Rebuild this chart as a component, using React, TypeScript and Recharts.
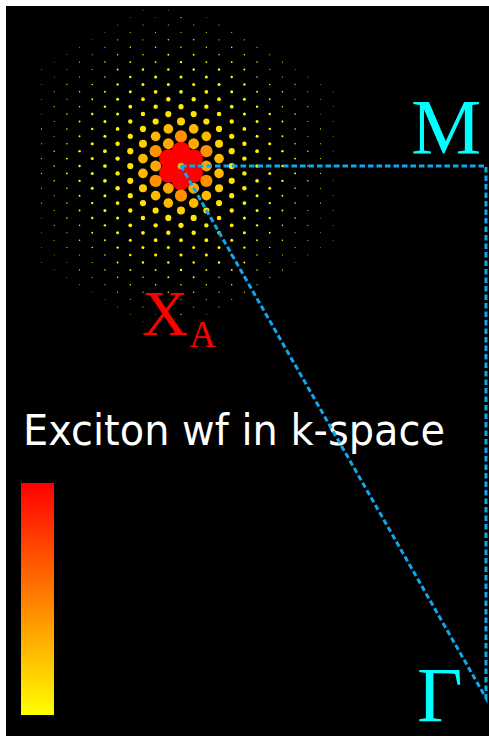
import React from 'react';
import { ScatterChart, Scatter, XAxis, YAxis } from 'recharts';

// Exciton weight on each k-point of the sampling grid, one string per lattice
// row h = -21 … 21 (top to bottom). Odd rows hold columns c = -11, -9, …, 11,
// even rows hold c = -10, -8, …, 12. '.' = k-point outside the sampled patch.
const weightRows: string[] = [
  '....zz......', // h = -21
  '...zzaz.....',
  '...zaaaa....',
  '..zaaaaa....',
  '..zaabbaa...',
  '.zabbbbba...',
  '.zabbccbba..',
  'zabccdccba..',
  'zzacddddcaz.',
  'zabdeeedbaz.',
  'zabdeeeedbaz',
  'abcefffecbaz',
  'zacefggfecaz',
  'abdfghgfdbaz',
  'zbdegiigedbz',
  'acegijigecaz',
  'abdfikkifdba',
  'acehkmkhecaz',
  'abegjlljgeba',
  'bdfimRmifdbz',
  'acegkRRkgeca',
  'bdfilRlifdbz', // h = 0
  'acegkRRkgeca',
  'bdfimRmifdbz',
  'abegjlljgeba',
  'acehkmkhecaz',
  'abdfikkifdba',
  'acegijigecaz',
  'zbdegiigedbz',
  'abdfghgfdbaz',
  'zacefggfecaz',
  'abcefffecbaz',
  'zabdeeeedbaz',
  'zabdeeedbaz.',
  'zzacddddcaz.',
  'zabccdccba..',
  '.zabbccbba..',
  '.zabbbbba...',
  '..zaabbaa...',
  '..zaaaaa....',
  '...zaaaa....',
  '...zzaz.....',
  '....zz......', // h = 21
];

// Normalised |A(k)|^2 for each weight symbol.
const weightLevels: Record<string, number> = {
  R: 1.0,
  m: 0.43,
  l: 0.34,
  k: 0.27,
  j: 0.185,
  i: 0.11,
  h: 0.078,
  g: 0.056,
  f: 0.04,
  e: 0.026,
  d: 0.0167,
  c: 0.0104,
  b: 0.0065,
  a: 0.0035,
  z: 0.002,
};

// High-symmetry points (lattice units, ky grows downward).
const kPoints = [
  { name: 'X', sub: 'A', kx: 0, ky: 0 },
  { name: 'M', sub: '', kx: 20.83, ky: 0 },
  { name: 'Γ', sub: '', kx: 20.83, ky: 35.85 },
];
const kPathOrder = ['X', 'M', 'Γ', 'X'];

const HALF_SQRT3 = Math.sqrt(3) / 2;

type LatticePoint = { kx: number; ky: number; w: number };

const latticePoints: LatticePoint[] = [];
weightRows.forEach((row, i) => {
  const h = i - 21;
  const cStart = Math.abs(h) % 2 === 1 ? -11 : -10;
  row.split('').forEach((ch, j) => {
    if (ch === '.') return;
    const c = cStart + 2 * j;
    latticePoints.push({ kx: c * HALF_SQRT3, ky: h / 2, w: weightLevels[ch] });
  });
});

const pathData = kPathOrder.map((n) => kPoints.find((p) => p.name === n)!);
const valleyPoint = kPoints.filter((p) => p.name === 'X');

// Colour scale: yellow (low) -> red (high), same as the colour bar.
const weightColor = (v: number) => `rgb(255,${Math.round(255 * (1 - v))},0)`;
const MAX_R = 9.3;

const LatticeDot = (props: any) => {
  const { cx, cy, payload } = props;
  const v = payload.w as number;
  return <circle cx={cx} cy={cy} r={MAX_R * Math.sqrt(v)} fill={weightColor(v)} />;
};

const ValleyDot = (props: any) => (
  <circle cx={props.cx} cy={props.cy} r={3.3} fill="#f4b400" />
);

const labelLayout: Record<string, { dx: number; dy: number; size: number; color: string }> = {
  X: { dx: -39, dy: 169, size: 64, color: '#ff0000' },
  M: { dx: -75, dy: -13, size: 79, color: '#00ffff' },
  'Γ': { dx: -69, dy: 23, size: 79, color: '#00ffff' },
};

const PointLabel = (props: any) => {
  const { cx, cy, payload } = props;
  const lay = labelLayout[payload.name];
  return (
    <text
      x={cx + lay.dx}
      y={cy + lay.dy}
      fill={lay.color}
      fontSize={lay.size}
      fontFamily="'Liberation Serif', 'Times New Roman', serif"
    >
      {payload.name}
      {payload.sub ? (
        <tspan fontSize={37} dx={1} dy={12}>
          {payload.sub}
        </tspan>
      ) : null}
    </text>
  );
};

const Empty = () => <g />;

export default function App() {
  return (
    <div
      style={{
        position: 'absolute',
        left: 0,
        top: 0,
        width: 489,
        height: 736,
        background: '#ffffff',
        overflow: 'hidden',
      }}
    >
      <div style={{ position: 'absolute', left: 6, top: 6, width: 483, height: 730, background: '#000000' }} />
      <svg width={489} height={736} style={{ position: 'absolute', left: 0, top: 0 }}>
        <defs>
          <linearGradient id="weightBar" x1="0" y1="1" x2="0" y2="0">
            <stop offset="0" stopColor={weightColor(0)} />
            <stop offset="0.5" stopColor={weightColor(0.5)} />
            <stop offset="1" stopColor={weightColor(1)} />
          </linearGradient>
        </defs>
        <rect x={21} y={483} width={33} height={232} fill="url(#weightBar)" />
        <text
          x={23}
          y={445}
          fill="#ffffff"
          fontSize={42}
          fontFamily="'Comic Sans MS', 'DejaVu Sans', sans-serif"
          textLength={422}
          lengthAdjust="spacingAndGlyphs"
        >
          Exciton wf in k-space
        </text>
      </svg>
      <div style={{ position: 'absolute', left: 0, top: 0 }}>
        <ScatterChart width={489} height={736} margin={{ top: 0, right: 0, bottom: 0, left: 0 }}>
          <XAxis type="number" dataKey="kx" domain={[-12.363, 21.038]} hide allowDataOverflow />
          <YAxis type="number" dataKey="ky" domain={[-11.186, 38.41]} hide reversed allowDataOverflow />
          <Scatter data={latticePoints} shape={LatticeDot} isAnimationActive={false} />
          <Scatter data={valleyPoint} shape={ValleyDot} isAnimationActive={false} />
          <Scatter
            data={pathData}
            shape={Empty}
            line={{ stroke: '#0ea8ec', strokeWidth: 3, strokeDasharray: '5.5 3', fill: 'none' }}
            isAnimationActive={false}
          />
          <Scatter data={kPoints} shape={PointLabel} isAnimationActive={false} />
        </ScatterChart>
      </div>
    </div>
  );
}
